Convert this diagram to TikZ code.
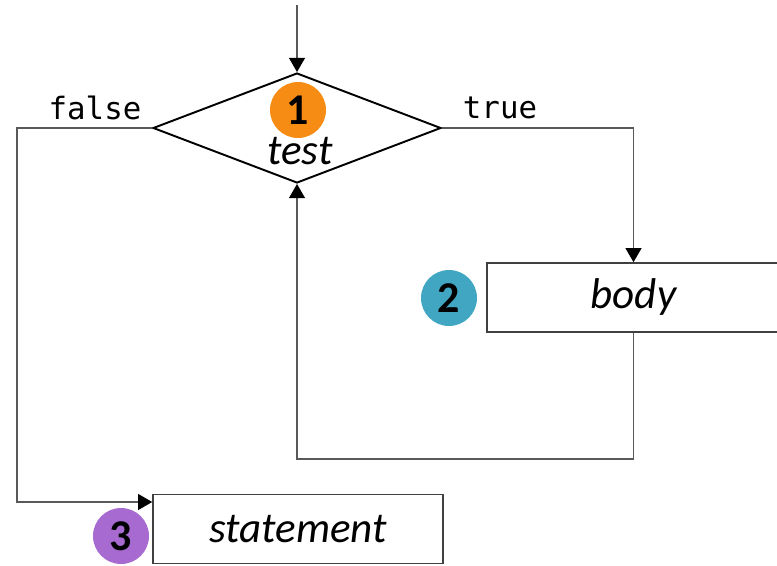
\documentclass[tikz,border=0pt]{standalone}
\usepackage{fontspec}
\setmainfont{Carlito}
\newfontfamily\codefont{DejaVu Sans Mono}
\usetikzlibrary{shapes.geometric,arrows.meta}

\definecolor{steporange}{RGB}{247,140,20}
\definecolor{stepteal}{RGB}{64,166,194}
\definecolor{steppurple}{RGB}{166,106,208}

\begin{document}
\begin{tikzpicture}[x=0.02cm,y=-0.02cm]
    \tikzstyle{every node}=[inner sep=0pt, text=black]
    \tikzstyle{box}=[rectangle, draw=black!75, line width=0.9pt, minimum height=1.38cm, font=\fontsize{24.5}{27}\selectfont\itshape]
    \tikzstyle{badge}=[circle, minimum size=1.12cm, font=\fontsize{25}{28}\selectfont\bfseries]
    \tikzstyle{code}=[font=\codefont\fontsize{17.5}{20}\selectfont]
    \tikzstyle{edge}=[black!65, line width=0.8pt, -{Triangle[width=9pt,length=8pt,color=black]}]

    \useasboundingbox (0,0) rectangle (777,565);

    \node[diamond, draw=black, line width=1.1pt, minimum width=5.76cm, minimum height=2.2cm] (d) at (297,128) {};
    \node[font=\fontsize{24.5}{27}\selectfont\itshape] (test) at (300,151) {test};
    \node[badge, fill=steporange] (n1) at (298,110) {1};

    \node[box, minimum width=5.86cm] (body) at (633.5,297.5) {body};
    \node[badge, fill=stepteal] (n2) at (449,298) {2};

    \node[box, minimum width=5.8cm] (stmt) at (298,529) {statement};
    \node[badge, fill=steppurple] (n3) at (121,536) {3};

    \node[code] (f) at (95,108) {false};
    \node[code] (t) at (500,108) {true};

    \coordinate (start) at (297,5);
    \coordinate (back) at (297,459);
    \coordinate (out) at (17,502);

    \draw[edge] (start) -- (d.north);
    \draw[edge] (d.east) -| (body.north);
    \draw[edge] (body.south) |- (back) -- (d.south);
    \draw[edge] (d.west) -| (out) -- (stmt.west |- out);
\end{tikzpicture}
\end{document}
